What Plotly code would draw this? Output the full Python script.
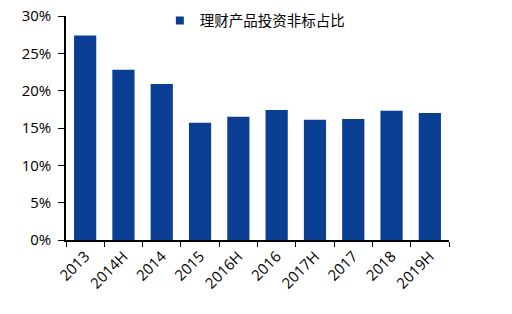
import plotly.graph_objects as go

categories = ["2013", "2014H", "2014", "2015", "2016H", "2016", "2017H", "2017", "2018", "2019H"]
values = [27.4, 22.8, 20.9, 15.7, 16.5, 17.4, 16.1, 16.2, 17.3, 17.0]
series_name = "理财产品投资非标占比"
y_ticks = [0, 5, 10, 15, 20, 25, 30]
y_tick_labels = [f"{v}%" for v in y_ticks]
bar_color = "#0B3F94"

fig = go.Figure()
fig.add_trace(go.Bar(x=categories, y=values, name=series_name, showlegend=False,
                     marker=dict(color=bar_color, line=dict(width=0))))
# legend entry with a small square swatch
fig.add_trace(go.Scatter(x=[None], y=[None], mode="markers", name=series_name,
                         marker=dict(symbol="square", size=8, color=bar_color)))

fig.update_layout(
    width=512, height=314,
    margin=dict(l=66, r=63, t=16, b=74, autoexpand=False),
    paper_bgcolor="white", plot_bgcolor="white",
    bargap=0.42,
    showlegend=True,
    legend=dict(x=0.245, y=0.98, xanchor="left", yanchor="middle",
                font=dict(family="Noto Sans CJK SC", size=14.5, color="black"),
                bgcolor="rgba(0,0,0,0)", itemwidth=30),
    font=dict(family="Open Sans", size=14, color="black"),
)
fig.update_xaxes(showline=True, linecolor="black", linewidth=1.5, automargin=False,
                 ticks="outside", ticklen=5, tickcolor="black", tickson="boundaries",
                 tickangle=-45, tickfont=dict(size=15, family="Open Sans"), showgrid=False)
fig.update_yaxes(range=[0, 30], tickvals=y_ticks, ticktext=y_tick_labels, automargin=False,
                 showline=True, linecolor="black", linewidth=1.5,
                 ticks="outside", ticklen=6, tickcolor="black", ticklabelstandoff=4,
                 showgrid=False, zeroline=False, tickfont=dict(size=15, family="Open Sans"))

fig.write_html("out.html")
